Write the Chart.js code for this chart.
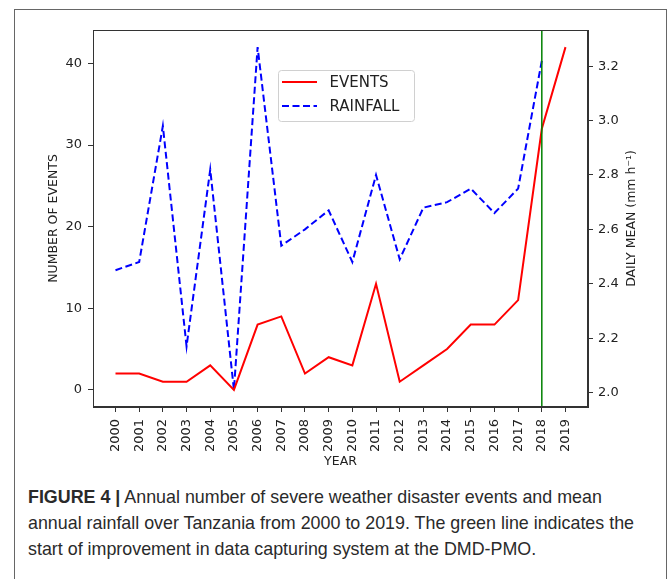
<!DOCTYPE html>
<html>
<head>
<meta charset="utf-8">
<script src="https://cdn.jsdelivr.net/npm/chart.js@4.4.1/dist/chart.umd.min.js"></script>
<style>
  body { margin: 0; background: #fff; width: 670px; height: 579px; overflow: hidden; position: relative; }
  #frame { position: absolute; left: 14px; top: 9px; width: 653px; height: 600px; border: 1px solid #666; box-sizing: border-box; }
  #wrap { position: absolute; left: 46px; top: 0; width: 594px; height: 469px; }
  #caption { position: absolute; left: 28px; top: 484px; font-family: "Liberation Sans", sans-serif;
             font-size: 19px; line-height: 26px; color: #2a2a2a; white-space: nowrap;
             transform: scaleX(0.94); transform-origin: 0 0; }
</style>
</head>
<body>
<div id="frame"></div>
<div id="wrap"><canvas id="chart" width="594" height="469"></canvas></div>
<div id="caption"><b>FIGURE 4 |</b> Annual number of severe weather disaster events and mean<br>annual rainfall over Tanzania from 2000 to 2019. The green line indicates the<br>start of improvement in data capturing system at the DMD-PMO.</div>
<script>
// x categories
const years = [2000, 2001, 2002, 2003, 2004, 2005, 2006, 2007, 2008, 2009,
               2010, 2011, 2012, 2013, 2014, 2015, 2016, 2017, 2018, 2019];
// number of severe weather events per year
const events = [2, 2, 1, 1, 3, 0, 8, 9, 2, 4, 3, 13, 1, 3, 5, 8, 8, 11, 32, 42];
// daily mean rainfall (mm/h), no value for 2019
const rainfall = [2.45, 2.48, 2.98, 2.17, 2.82, 2.01, 3.27, 2.54, 2.60, 2.67,
                  2.48, 2.80, 2.49, 2.68, 2.70, 2.75, 2.66, 2.75, 3.22];
// tick labels
const eventTicks = [0, 10, 20, 30, 40];
const rainTicks = [2.0, 2.2, 2.4, 2.6, 2.8, 3.0, 3.2];
// year where data capturing improved (green line)
const markYear = 2018;

Chart.defaults.font.family = "DejaVu Sans";
Chart.defaults.font.size = 13;
Chart.defaults.color = "#222";

const axisColor = "#333";

// box round plot, green marker line, legend inside the plot, right axis title
const extras = {
  id: "extras",
  afterDatasetsDraw(chart) {
    const { ctx, chartArea: a, scales } = chart;
    const gx = scales.x.getPixelForValue(markYear);
    ctx.save();
    ctx.strokeStyle = "#008000";
    ctx.lineWidth = 1.5;
    ctx.beginPath();
    ctx.moveTo(gx, a.top);
    ctx.lineTo(gx, a.bottom);
    ctx.stroke();
    ctx.restore();
  },
  afterDraw(chart) {
    const { ctx, chartArea: a, scales } = chart;
    ctx.save();
    ctx.strokeStyle = axisColor;
    ctx.lineWidth = 1;
    ctx.strokeRect(a.left + 0.5, a.top + 0.5, a.right - a.left - 1, a.bottom - a.top - 1);

    // legend
    const lx = a.left + 185, ly = a.top + 40, lw = 136, lh = 51;
    ctx.beginPath();
    ctx.roundRect(lx + 0.5, ly + 0.5, lw, lh, 3);
    ctx.fillStyle = "rgba(255,255,255,0.85)";
    ctx.fill();
    ctx.strokeStyle = "#d0d0d0";
    ctx.stroke();
    ctx.font = "15px 'DejaVu Sans'";
    ctx.textBaseline = "middle";
    chart.data.datasets.forEach((ds, i) => {
      const cy = ly + 12 + i * 24;
      ctx.strokeStyle = ds.borderColor;
      ctx.lineWidth = ds.borderWidth;
      ctx.setLineDash(ds.borderDash || []);
      ctx.beginPath();
      ctx.moveTo(lx + 4, cy);
      ctx.lineTo(lx + 39, cy);
      ctx.stroke();
      ctx.setLineDash([]);
      ctx.fillStyle = "#222";
      ctx.fillText(ds.label, lx + 51.5, cy + 1);
    });

    // right axis title, reads bottom to top
    const s = scales.y1;
    ctx.translate(s.right - 8, (a.top + a.bottom) / 2);
    ctx.rotate(-Math.PI / 2);
    ctx.font = "12.5px 'DejaVu Sans'";
    ctx.textAlign = "center";
    ctx.textBaseline = "middle";
    ctx.fillStyle = "#222";
    ctx.fillText("DAILY MEAN (mm h\u207B\u00B9)", 0, 0);
    ctx.restore();
  }
};

new Chart(document.getElementById("chart"), {
  type: "line",
  plugins: [extras],
  data: {
    datasets: [
      {
        label: "EVENTS",
        data: years.map((y, i) => ({ x: y, y: events[i] })),
        borderColor: "#ff0000",
        borderWidth: 2,
        pointRadius: 0,
        tension: 0,
        yAxisID: "y"
      },
      {
        label: "RAINFALL",
        data: rainfall.map((v, i) => ({ x: years[i], y: v })),
        borderColor: "#0000ff",
        borderWidth: 2,
        borderDash: [7, 3.5],
        pointRadius: 0,
        tension: 0,
        yAxisID: "y1"
      }
    ]
  },
  options: {
    responsive: false,
    animation: false,
    layout: { padding: { top: 30, left: 0, right: 0, bottom: 0 } },
    plugins: { legend: { display: false }, tooltip: { enabled: false } },
    scales: {
      x: {
        type: "linear",
        min: 1999.05,
        max: 2019.95,
        afterBuildTicks: s => { s.ticks = years.map(v => ({ value: v })); },
        afterFit: s => { s.height = 62; },
        ticks: { autoSkip: false, minRotation: 90, maxRotation: 90, padding: 7, callback: v => String(v) },
        grid: { drawOnChartArea: false, tickLength: 5, color: axisColor },
        border: { color: axisColor },
        title: { display: true, text: "YEAR", padding: 0, font: { size: 12.5 } }
      },
      y: {
        position: "left",
        min: -2.1,
        max: 44.1,
        afterBuildTicks: s => { s.ticks = eventTicks.map(v => ({ value: v })); },
        afterFit: s => { s.width = 47; },
        ticks: { padding: 6 },
        grid: { drawOnChartArea: false, tickLength: 5, color: axisColor },
        border: { color: axisColor },
        title: { display: true, text: "NUMBER OF EVENTS", padding: 0, font: { size: 12.5 } }
      },
      y1: {
        position: "right",
        min: 1.947,
        max: 3.333,
        afterBuildTicks: s => { s.ticks = rainTicks.map(v => ({ value: v })); },
        afterFit: s => { s.width = 52; },
        ticks: { padding: 5, callback: v => v.toFixed(1) },
        grid: { drawOnChartArea: false, tickLength: 5, color: axisColor },
        border: { color: axisColor }
      }
    }
  }
});
</script>
</body>
</html>
